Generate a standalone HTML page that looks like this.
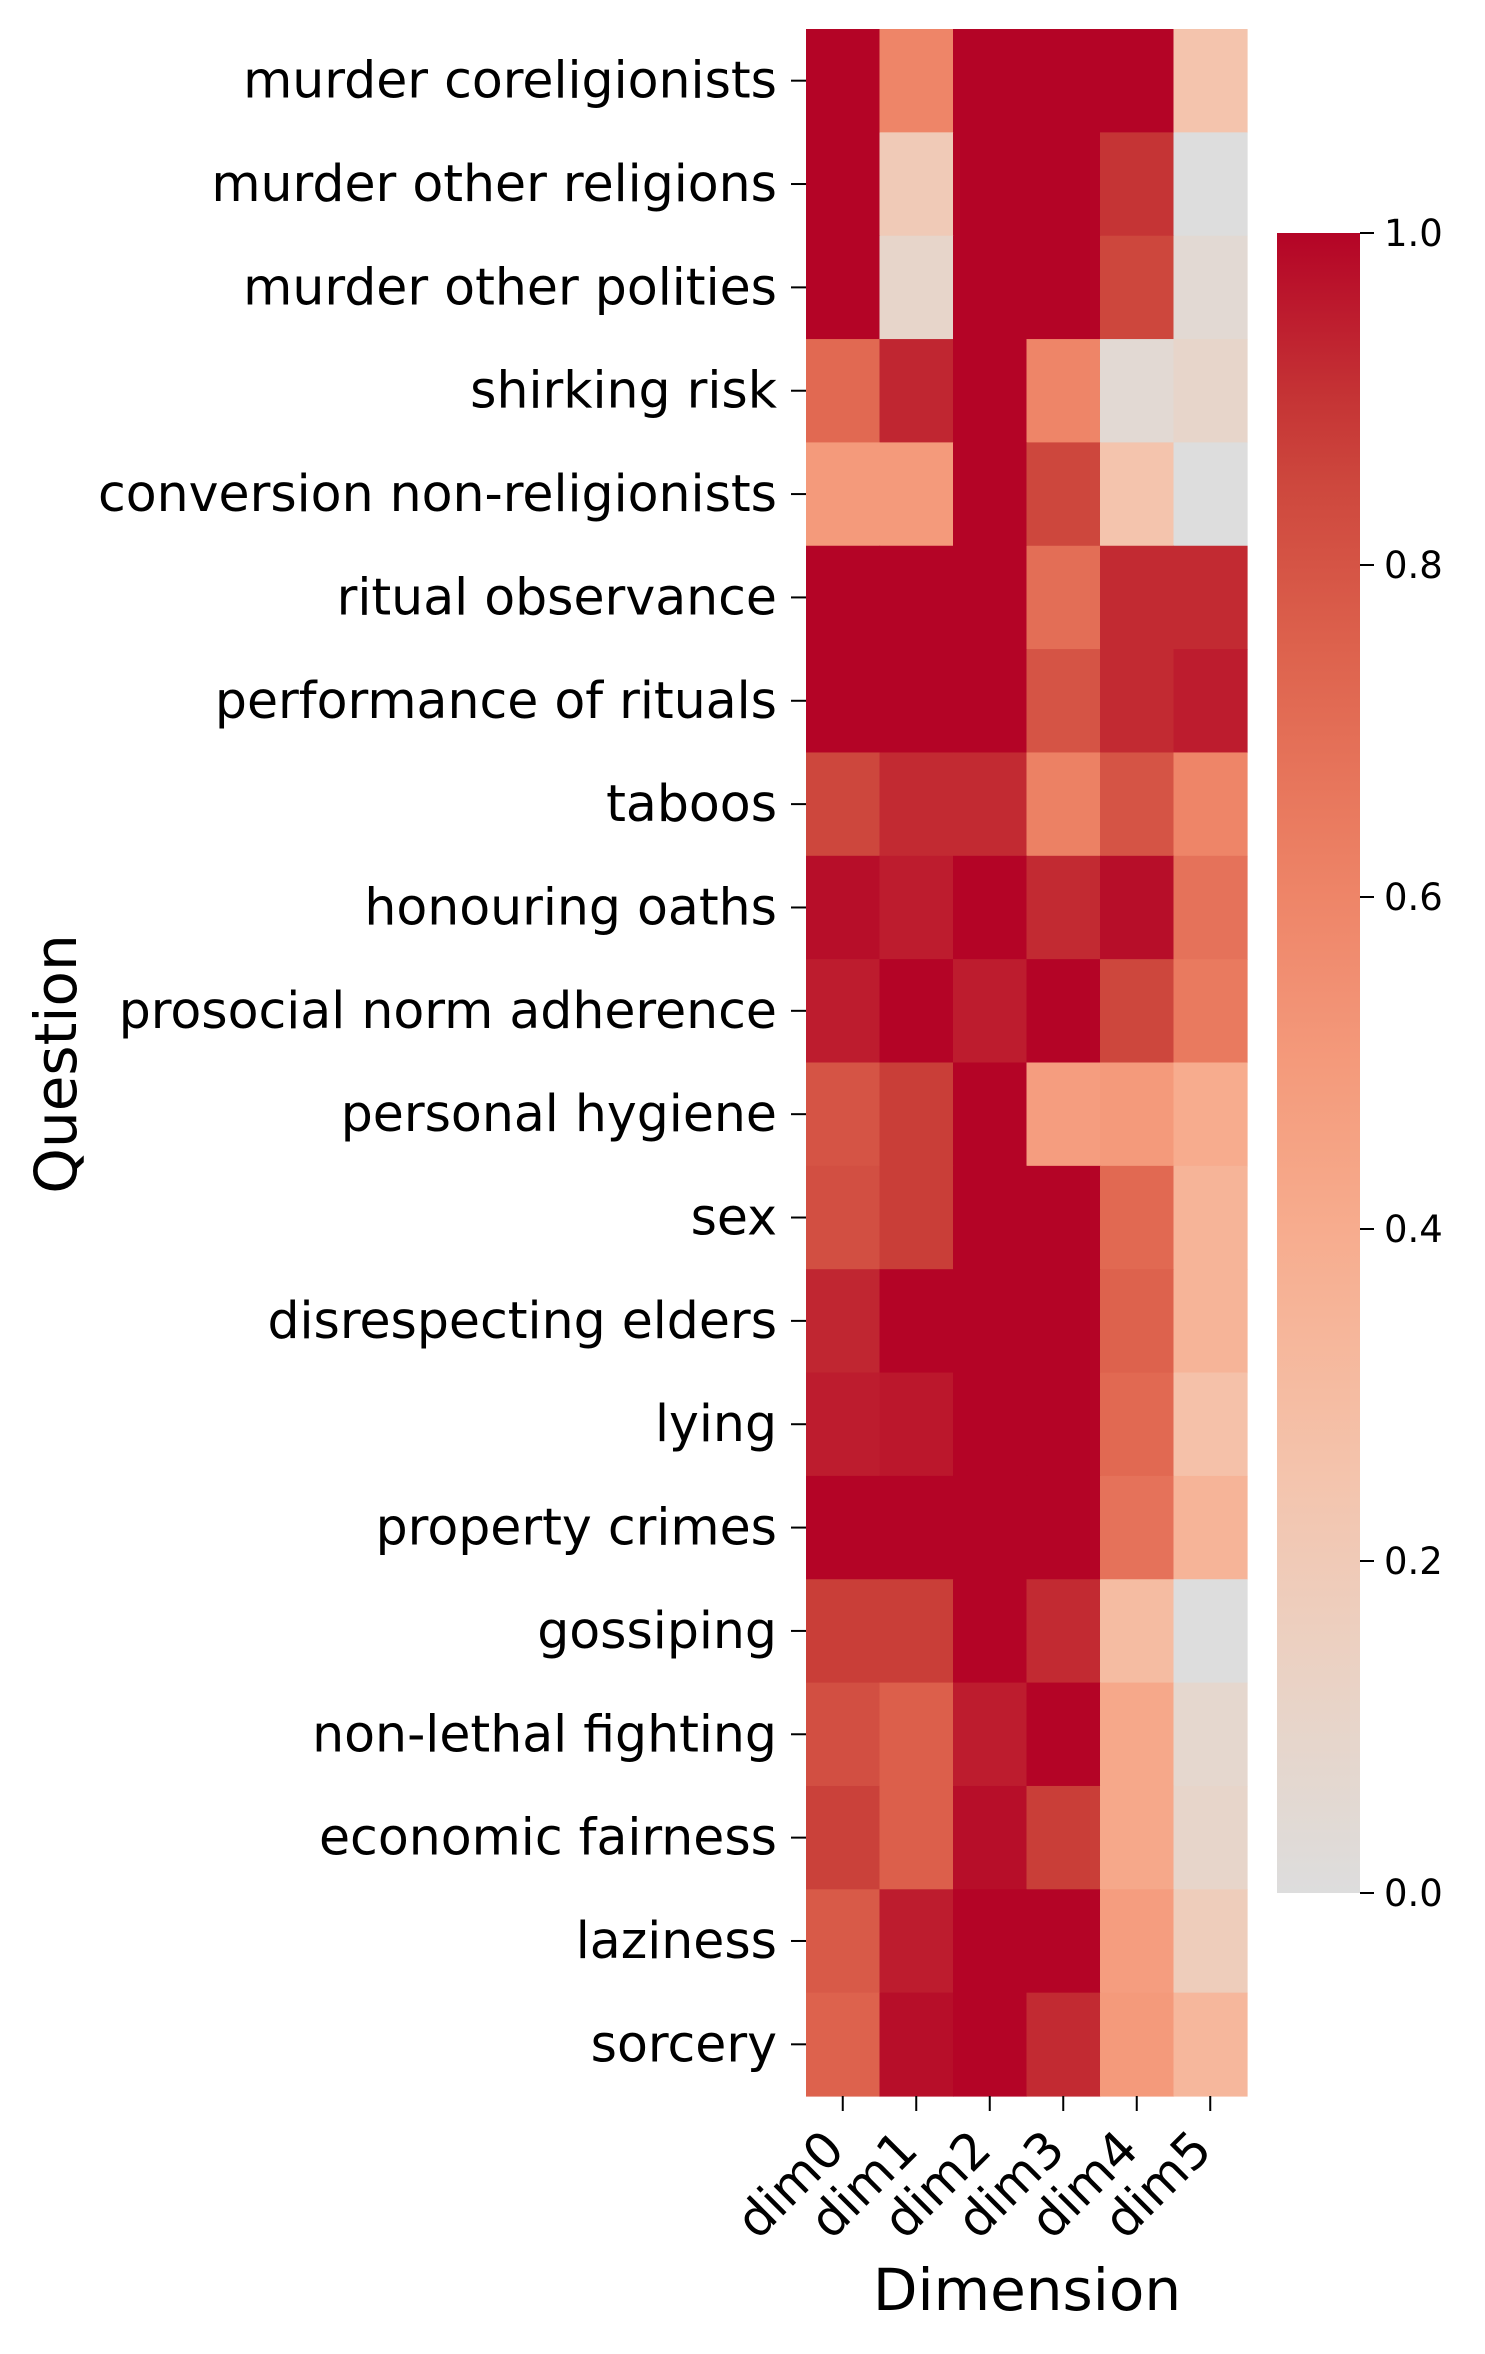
<!DOCTYPE html>
<html><head><meta charset="utf-8"><style>
html,body{margin:0;padding:0;background:#fff;}
svg{display:block;font-family:"DejaVu Sans","Liberation Sans",sans-serif;}
</style></head><body>
<svg id="chart" width="1485" height="2354" viewBox="0 0 1485 2354" xmlns="http://www.w3.org/2000/svg">
<defs><linearGradient id="cbgrad" x1="0" y1="1" x2="0" y2="0"></linearGradient></defs>
<g id="cells"></g>
<g id="yaxis"></g>
<g id="xaxis"></g>
<g id="cbar"></g>
<text transform="translate(76,1064) rotate(-90)" text-anchor="middle" font-size="58">Question</text>
<text x="1027" y="2310" text-anchor="middle" font-size="58">Dimension</text>
</svg>
<script>
const questions = ["murder coreligionists","murder other religions","murder other polities","shirking risk","conversion non-religionists","ritual observance","performance of rituals","taboos","honouring oaths","prosocial norm adherence","personal hygiene","sex","disrespecting elders","lying","property crimes","gossiping","non-lethal fighting","economic fairness","laziness","sorcery"];
const dims = ["dim0","dim1","dim2","dim3","dim4","dim5"];
const values = [
[1,0.6,1,1,1,0.25],
[1,0.2,1,1,0.9,0.0],
[1,0.1,1,1,0.85,0.05],
[0.72,0.93,1,0.6,0.05,0.1],
[0.5,0.5,1,0.85,0.25,0.0],
[1,1,1,0.7,0.92,0.92],
[1,1,1,0.8,0.92,0.95],
[0.85,0.92,0.92,0.62,0.8,0.6],
[0.98,0.95,1,0.92,0.98,0.68],
[0.95,1,0.95,1,0.85,0.65],
[0.8,0.88,1,0.48,0.5,0.4],
[0.82,0.88,1,1,0.72,0.35],
[0.93,1,1,1,0.75,0.35],
[0.95,0.96,1,1,0.72,0.27],
[1,1,1,1,0.68,0.35],
[0.88,0.88,1,0.92,0.3,0.0],
[0.82,0.76,0.95,1,0.42,0.08],
[0.87,0.76,0.98,0.88,0.42,0.1],
[0.78,0.95,1,1,0.48,0.18],
[0.75,0.98,1,0.92,0.5,0.33]
];
const cbTicks = [0,0.2,0.4,0.6,0.8,1.0];
const cbTickLabels = ["0.0","0.2","0.4","0.6","0.8","1.0"];

const NS="http://www.w3.org/2000/svg";
const L=806,R=1247,T=29,B=2096;
const CBL=1277,CBR=1360,CBT=233,CBB=1893;
const cw=(R-L)/dims.length, rh=(B-T)/questions.length;
function xCol(i){return L+i*cw;}
function yRow(j){return T+j*rh;}
function yCb(v){return CBB-v*(CBB-CBT);}
const cm=[[0.865,0.865,0.865],[0.918,0.829,0.776],[0.957,0.769,0.678],[0.969,0.690,0.576],[0.958,0.603,0.482],[0.925,0.500,0.390],[0.867,0.384,0.302],[0.790,0.251,0.223],[0.706,0.016,0.150]];
function color(v){v=Math.max(0,Math.min(1,v));const p=v*8,i=Math.min(7,Math.floor(p)),f=p-i;const a=cm[i],b=cm[i+1];return "rgb("+[0,1,2].map(k=>Math.round(255*(a[k]+(b[k]-a[k])*f))).join(",")+")";}
function mk(tag,attrs,parent){const e=document.createElementNS(NS,tag);for(const k in attrs)e.setAttribute(k,attrs[k]);parent.appendChild(e);return e;}

const cells=document.getElementById('cells');
values.forEach((row,j)=>row.forEach((v,i)=>{
  const r=mk('rect',{x:xCol(i),y:yRow(j),width:cw+0.6,height:rh+0.6,fill:color(v)},cells);
  
  
}));
const ya=document.getElementById('yaxis');
questions.forEach((q,j)=>{
  const yc=yRow(j)+rh/2;
  const tk=mk('line',{x1:L-15,x2:L,y1:yc,y2:yc,stroke:'#000','stroke-width':2},ya);
  
  
  const t=mk('text',{x:L-29,y:yc+17,'text-anchor':'end','font-size':50.5},ya);
  t.textContent=q;
  
  
});
const xa=document.getElementById('xaxis');
dims.forEach((d,i)=>{
  const xc=xCol(i)+cw/2;
  const tk=mk('line',{x1:xc,x2:xc,y1:B,y2:B+15,stroke:'#000','stroke-width':2},xa);
  
  
  const t=mk('text',{transform:'translate('+(xc+4)+','+(B+56)+') rotate(-45)','text-anchor':'end','font-size':50},xa);
  t.textContent=d;
  
  
});
const g=document.getElementById('cbgrad');
for(let k=0;k<=20;k++){mk('stop',{offset:(k/20),'stop-color':color(k/20)},g);}
const cb=document.getElementById('cbar');
const cr=mk('rect',{x:CBL,y:CBT,width:CBR-CBL,height:CBB-CBT,fill:'url(#cbgrad)'},cb);


cbTicks.forEach((v,k)=>{
  const y=yCb(v);
  const tk=mk('line',{x1:CBR,x2:CBR+14,y1:y,y2:y,stroke:'#000','stroke-width':2},cb);
  
  
  const t=mk('text',{x:CBR+24,y:y+13,'font-size':37},cb);
  t.textContent=cbTickLabels[k];
  
  
});
</script>
</body></html>
